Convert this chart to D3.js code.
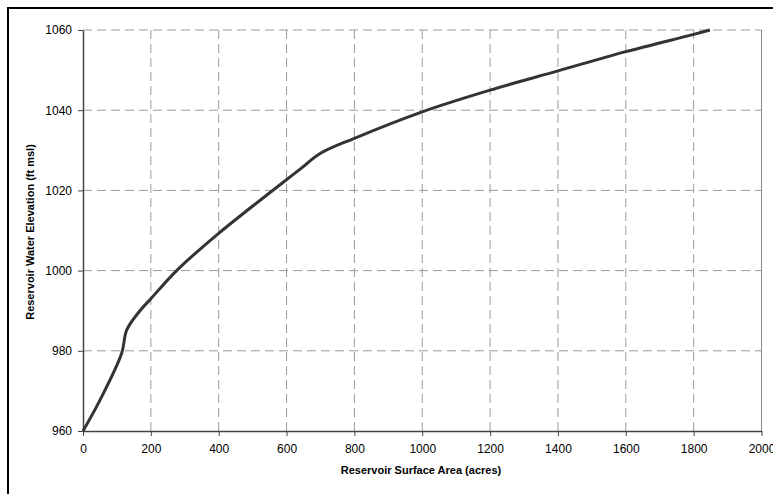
<!DOCTYPE html>
<html>
<head>
<meta charset="utf-8">
<script src="https://cdn.jsdelivr.net/npm/d3@7"></script>
<style>
  body { margin: 0; background: #fff; }
  text { font-family: "Liberation Sans", Arial, sans-serif; fill: #000; }
</style>
</head>
<body>
<script>
// surface area (acres) vs water elevation (ft msl)
const areaAcres = [0, 50, 114, 129, 168, 197, 276, 400, 640, 699, 800, 1000, 1200, 1400, 1600, 1800, 1848];
const elevFt = [960, 967.7, 979.4, 985.2, 990.0, 992.7, 1000, 1009.3, 1025.3, 1029.2, 1033, 1039.6, 1045, 1049.8, 1054.6, 1058.9, 1060];
const xTicks = [0, 200, 400, 600, 800, 1000, 1200, 1400, 1600, 1800, 2000];
const yTicks = [960, 980, 1000, 1020, 1040, 1060];

const w = 773, h = 494;
const plotL = 83, plotR = 761.5, plotT = 30, plotB = 431;

const svg = d3.select("body").append("svg")
    .attr("width", w)
    .attr("height", h);

// outer frame (runs off the right and bottom edges)
svg.append("rect")
    .attr("x", 8).attr("y", 8)
    .attr("width", 800).attr("height", 520)
    .attr("fill", "none")
    .attr("stroke", "#000")
    .attr("stroke-width", 2);

const x = d3.scaleLinear().domain([0, 2000]).range([plotL, plotR]);
const y = d3.scaleLinear().domain([960, 1060]).range([plotB, plotT]);

// dashed gridlines
svg.append("g").selectAll("line")
    .data(xTicks.slice(1, -1))
    .join("line")
    .attr("x1", d => x(d)).attr("x2", d => x(d))
    .attr("y1", plotT).attr("y2", plotB)
    .attr("stroke", "#9a9a9a")
    .attr("stroke-dasharray", "9,5");

svg.append("g").selectAll("line")
    .data(yTicks.slice(1))
    .join("line")
    .attr("x1", plotL).attr("x2", plotR)
    .attr("y1", d => y(d)).attr("y2", d => y(d))
    .attr("stroke", "#9a9a9a")
    .attr("stroke-dasharray", "9,5");

// right edge of the plot area
svg.append("line")
    .attr("x1", plotR).attr("x2", plotR)
    .attr("y1", plotT).attr("y2", plotB)
    .attr("stroke", "#888");

// axes
const fmt = d3.format("d");
const xAxis = svg.append("g")
    .attr("transform", `translate(0,${plotB})`)
    .call(d3.axisBottom(x).tickValues(xTicks).tickFormat(fmt).tickSize(5).tickPadding(8).tickSizeOuter(0));
const yAxis = svg.append("g")
    .attr("transform", `translate(${plotL},0)`)
    .call(d3.axisLeft(y).tickValues(yTicks).tickFormat(fmt).tickSize(5).tickPadding(6).tickSizeOuter(0));

[xAxis, yAxis].forEach(a => {
    a.select(".domain").attr("stroke", "#444").attr("stroke-width", 1.5);
    a.selectAll(".tick line").attr("stroke", "#444");
    a.selectAll(".tick text")
        .attr("font-family", "Liberation Sans, Arial, sans-serif")
        .attr("font-size", 12)
        .attr("fill", "#000");
});

// the curve
const line = d3.line()
    .x((d, i) => x(areaAcres[i]))
    .y(d => y(d))
    .curve(d3.curveCatmullRom.alpha(0.5));

svg.append("path")
    .datum(elevFt)
    .attr("d", line)
    .attr("fill", "none")
    .attr("stroke", "#333")
    .attr("stroke-width", 3)
    .attr("stroke-linejoin", "round");

// axis titles
svg.append("text")
    .attr("x", 421).attr("y", 474)
    .attr("text-anchor", "middle")
    .attr("font-size", 11)
    .attr("font-weight", "bold")
    .text("Reservoir Surface Area (acres)");

svg.append("text")
    .attr("transform", "translate(34,232) rotate(-90)")
    .attr("text-anchor", "middle")
    .attr("font-size", 11)
    .attr("font-weight", "bold")
    .text("Reservoir Water Elevation (ft msl)");
</script>
</body>
</html>
